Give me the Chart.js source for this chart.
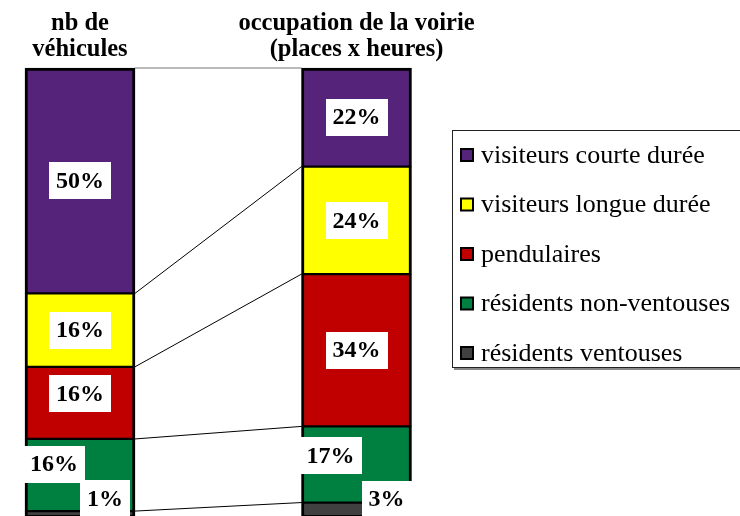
<!DOCTYPE html>
<html><head><meta charset="utf-8">
<script src="https://cdn.jsdelivr.net/npm/chart.js@4/dist/chart.umd.min.js"></script>
<style>html,body{margin:0;padding:0;background:#fff}#wrap{width:740px;height:516px;position:relative}</style>
</head><body><div id="wrap"><canvas id="c" width="740" height="516"></canvas></div>
<script>
// ---- data ----
const categories = [['nb de', 'véhicules'], ['occupation de la voirie', '(places x heures)']];
const seriesNames = ['visiteurs courte durée', 'visiteurs longue durée', 'pendulaires', 'résidents non-ventouses', 'résidents ventouses'];
const courteDuree = [50.3, 22];
const longueDuree = [16.4, 24];
const pendulaires = [16.1, 34];
const residentsNonVentouses = [16.1, 17];
const residentsVentouses = [1.1, 3];
const yRange = [0, 100];

// ---- style ----
const FONT = 'Liberation Serif';
const colors = ['#55237a', '#ffff00', '#c00000', '#008040', '#404040'];
const seriesValues = [courteDuree, longueDuree, pendulaires, residentsNonVentouses, residentsVentouses];
// label offsets (px) per series (legend order), per bar
const labelOffsets = [[[0, 0], [0, 0]], [[0, 0], [0, 0]], [[0, -9], [0, 0]], [[-26, -11], [-26, -9]], [[25, -15], [30, -10]]];

// datasets are stacked bottom-first: reverse legend order
const order = [4, 3, 2, 1, 0];
const datasets = order.map(i => ({
  label: seriesNames[i],
  data: seriesValues[i],
  backgroundColor: colors[i],
  borderColor: '#000',
  borderWidth: {top: i === 0 ? 3 : 1.5, bottom: 1.5, left: 3, right: 3},
  borderSkipped: false,
  barThickness: 110,
  clip: false,
  seriesIndex: i
}));

const connectorPlugin = {
  id: 'connectors',
  beforeDatasetsDraw(chart) {
    const ctx = chart.ctx, y = chart.scales.y;
    const m0 = chart.getDatasetMeta(0);
    const b0 = m0.data[0], b1 = m0.data[1];
    const xl = b0.x + b0.width / 2, xr = b1.x - b1.width / 2;
    let cl = 0, cr = 0;
    ctx.save();
    ctx.lineWidth = 1;
    chart.data.datasets.forEach((ds, j) => {
      cl += ds.data[0]; cr += ds.data[1];
      const last = j === chart.data.datasets.length - 1;
      ctx.strokeStyle = last ? '#777' : '#000';
      ctx.beginPath();
      ctx.moveTo(xl, y.getPixelForValue(cl));
      ctx.lineTo(xr, y.getPixelForValue(cr));
      ctx.stroke();
    });
    ctx.restore();
  }
};

const labelPlugin = {
  id: 'segLabels',
  afterDatasetsDraw(chart) {
    const ctx = chart.ctx;
    ctx.save();
    ctx.font = 'bold 24px "' + FONT + '"';
    ctx.textAlign = 'center';
    ctx.textBaseline = 'middle';
    chart.data.datasets.forEach((ds, j) => {
      const meta = chart.getDatasetMeta(j);
      meta.data.forEach((el, i) => {
        const off = labelOffsets[ds.seriesIndex][i];
        const cx = el.x + off[0];
        const cy = (el.y + el.base) / 2 + off[1];
        const txt = Math.round(ds.data[i]) + '%';
        const tw = ctx.measureText(txt).width;
        const w = tw + 14, h = 37;
        ctx.fillStyle = '#fff';
        ctx.fillRect(Math.round(cx - w / 2), Math.round(cy - h / 2), Math.round(w), h);
        ctx.fillStyle = '#000';
        ctx.fillText(txt, cx, cy + 1);
      });
    });
    ctx.restore();
  }
};

const legendPlugin = {
  id: 'boxLegend',
  afterDraw(chart) {
    const ctx = chart.ctx;
    ctx.save();
    ctx.fillStyle = '#888';
    ctx.fillRect(454, 368, 300, 2);
    ctx.strokeStyle = '#222';
    ctx.lineWidth = 1;
    ctx.strokeRect(452.5, 130.5, 300, 237);
    ctx.font = '26px "' + FONT + '"';
    ctx.textBaseline = 'middle';
    ctx.textAlign = 'left';
    seriesNames.forEach((name, i) => {
      const cy = 155 + i * 49.5;
      ctx.fillStyle = colors[i];
      ctx.fillRect(461, cy - 6, 12, 12);
      ctx.strokeStyle = '#000';
      ctx.lineWidth = 2;
      ctx.strokeRect(461, cy - 6, 12, 12);
      ctx.fillStyle = '#000';
      ctx.fillText(name, 481, cy + 1);
    });
    ctx.restore();
  }
};

new Chart(document.getElementById('c'), {
  type: 'bar',
  data: {labels: categories, datasets},
  options: {
    responsive: false,
    animation: false,
    devicePixelRatio: 1,
    layout: {padding: {left: 80, right: 383.5, top: 0, bottom: 0}},
    plugins: {legend: {display: false}, tooltip: {enabled: false}},
    scales: {
      x: {
        position: 'top',
        stacked: true,
        offset: false,
        grid: {display: false, drawTicks: false},
        border: {display: false},
        ticks: {
          color: '#000',
          padding: 5,
          autoSkip: false,
          maxRotation: 0,
          font: {family: FONT, size: 24.5, weight: 'bold', lineHeight: '26px'}
        },
        afterFit(s) { s.height = 68; }
      },
      y: {stacked: true, min: yRange[0], max: yRange[1], display: false}
    }
  },
  plugins: [connectorPlugin, labelPlugin, legendPlugin]
});
</script></body></html>
